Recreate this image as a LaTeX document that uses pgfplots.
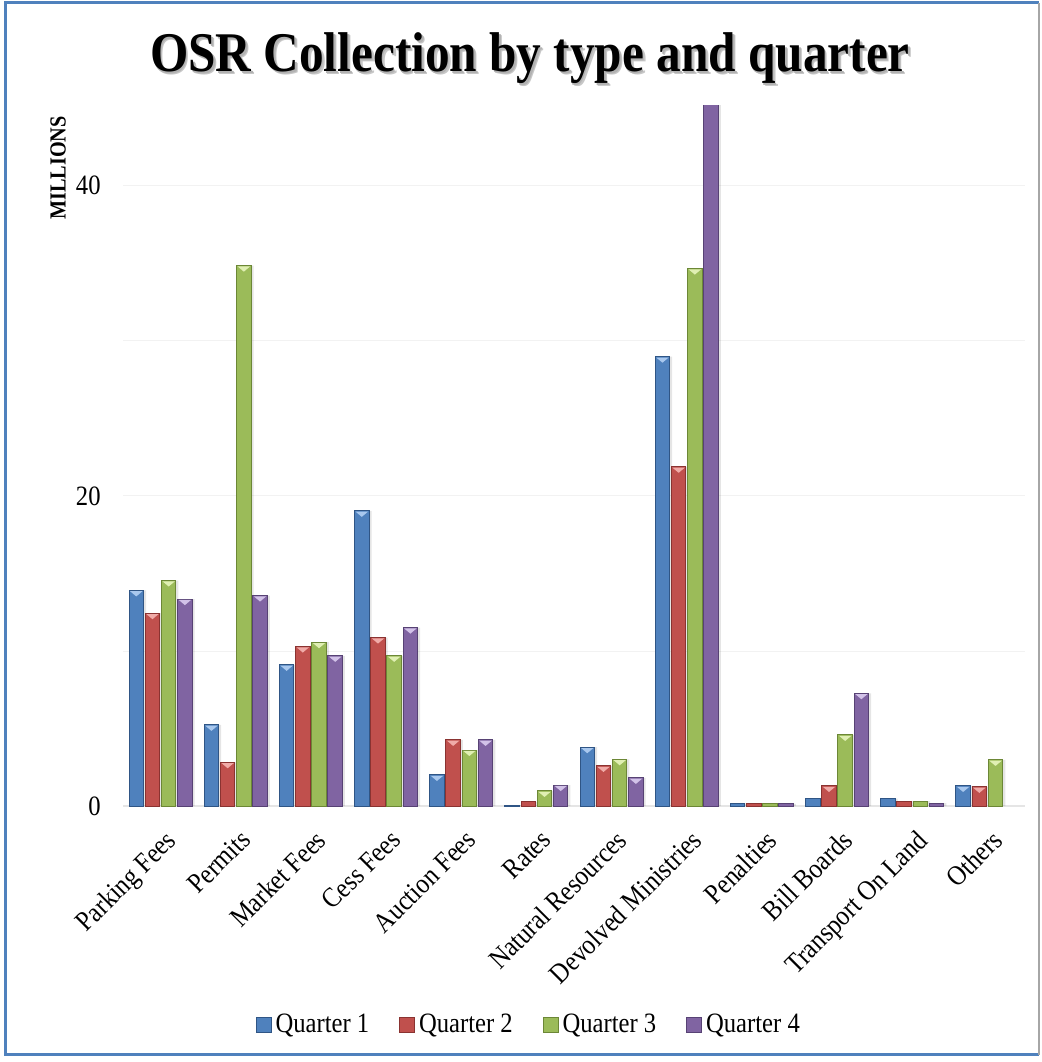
\documentclass[border=0pt]{standalone}
\usepackage{pgfplots}
\pgfplotsset{compat=1.18}
\usepackage{pgfplotstable}
\usepackage{fontspec}
\setmainfont{Liberation Serif}[FakeStretch=0.88]

% series colours: base, darker edge, light bevel
\definecolor{qa}{HTML}{4F81BD}\definecolor{qaD}{HTML}{2F5585}\definecolor{qaL}{HTML}{A9C8EE}
\definecolor{qb}{HTML}{C0504D}\definecolor{qbD}{HTML}{8A3331}\definecolor{qbL}{HTML}{F0ABA8}
\definecolor{qc}{HTML}{9BBB59}\definecolor{qcD}{HTML}{6C8736}\definecolor{qcL}{HTML}{E0EFB3}
\definecolor{qd}{HTML}{8064A2}\definecolor{qdD}{HTML}{574274}\definecolor{qdL}{HTML}{D2C2E8}
\definecolor{frame}{HTML}{4F81BD}

% OSR collection in millions, one row per revenue type
\pgfplotstableread{
idx Q1    Q2    Q3    Q4
0   13.90 12.43 14.54 13.34
1   5.23  2.82  34.84 13.57
2   9.10  10.28 10.56 9.68
3   19.03 10.86 9.68  11.50
4   2.00  4.26  3.61  4.26
5   0.05  0.26  0.97  1.35
6   3.79  2.58  3.01  1.81
7   28.97 21.87 34.65 46.50
8   0.17  0.17  0.17  0.14
9   0.47  1.29  4.58  7.27
10  0.47  0.32  0.32  0.19
11  1.29  1.23  2.97  nan
}\osr

\newcommand\tri[1]{\tikz\fill[#1] (-3.1pt,0) -- (3.1pt,0) -- (0,-2.6pt) -- cycle;}
% text with a soft drop shadow set in the same box
\newcommand\shadowed[1]{%
  \makebox[0pt][l]{\kern1.4pt\raisebox{-1.4pt}{\color{black!22}#1}}%
  \makebox[0pt][l]{\kern0.8pt\raisebox{-0.8pt}{\color{black!30}#1}}#1}

\pgfplotsset{
  qbar/.style 2 args={fill=#1, draw=#2, line width=0.5pt},
  shadowbar/.style={draw=none, fill=black, fill opacity=0.10, forget plot},
  bevel/.style={draw=none, fill=none, forget plot, restrict y to domain=0.6:45,
    nodes near coords={\tri{#1}},
    every node near coord/.append style={anchor=north, inner sep=0pt, outer sep=0pt, yshift=-0.4pt}},
}

\begin{document}
\begin{tikzpicture}
\useasboundingbox (0,0) rectangle (520.5pt,531pt);
% outer frame
\draw[frame, line width=1.5pt] (519.5pt,529.5pt) -- (2.5pt,529.5pt) -- (2.5pt,3.5pt) -- (519.5pt,3.5pt);
\draw[black!35, line width=0.6pt] (519.5pt,3.5pt) -- (519.5pt,529.5pt);

% title
\node[anchor=base, font=\bfseries\fontsize{28}{32}\selectfont] at (265pt,495pt)
  {\shadowed{OSR Collection by type and quarter}};

\begin{axis}[
  at={(61.5pt,128pt)}, anchor=south west,
  scale only axis, width=451pt, height=350.5pt,
  xmin=-0.5, xmax=11.5, ymin=0, ymax=45.2,
  ybar, bar width=7.25pt,
  axis lines*=left,
  x axis line style={black!10, line width=1.4pt},
  y axis line style={draw=none},
  xtick={0,...,11},
  xticklabels={Parking Fees, Permits, Market Fees, Cess Fees, Auction Fees, Rates,
    Natural Resources, Devolved Ministries, Penalties, Bill Boards, Transport On Land, Others},
  major tick length=0pt, minor tick length=0pt,
  xticklabel style={font=\fontsize{14}{16}\selectfont, xshift=1.5pt, yshift=-11pt,
    rotate=45, anchor=north east, inner sep=0pt},
  ytick={0,20,40}, minor ytick={10,30},
  ymajorgrids, yminorgrids,
  major grid style={black!5}, minor grid style={black!5},
  yticklabel style={font=\fontsize{14}{16}\selectfont, anchor=east, inner sep=0pt, xshift=-11pt},
  /pgf/number format/assume math mode=true,
  legend columns=4,
  legend cell align=left,
  legend style={draw=none, fill=none, at={(0.451,-0.3124)}, anchor=center,
    font=\fontsize{14}{16}\selectfont,
    /tikz/every even column/.append style={column sep=13pt}},
  legend image code/.code={\draw[#1] (0pt,-3.7pt) rectangle (7.4pt,3.7pt);},
]
% soft shadows behind the bars
\addplot[shadowbar, bar shift=-10.9pt] table[x=idx, y=Q1] {\osr};
\addplot[shadowbar, bar shift=-2.8pt]  table[x=idx, y=Q2] {\osr};
\addplot[shadowbar, bar shift=5.3pt]   table[x=idx, y=Q3] {\osr};
\addplot[shadowbar, bar shift=13.4pt]  table[x=idx, y=Q4] {\osr};

\addplot[qbar={qa}{qaD}, bar shift=-12.15pt] table[x=idx, y=Q1] {\osr};
\addplot[qbar={qb}{qbD}, bar shift=-4.05pt]  table[x=idx, y=Q2] {\osr};
\addplot[qbar={qc}{qcD}, bar shift=4.05pt]   table[x=idx, y=Q3] {\osr};
\addplot[qbar={qd}{qdD}, bar shift=12.15pt]  table[x=idx, y=Q4] {\osr};
\legend{Quarter 1, Quarter 2, Quarter 3, Quarter 4}

% bevelled caps on the bars
\addplot[bevel=qaL, bar shift=-12.15pt] table[x=idx, y=Q1] {\osr};
\addplot[bevel=qbL, bar shift=-4.05pt]  table[x=idx, y=Q2] {\osr};
\addplot[bevel=qcL, bar shift=4.05pt]   table[x=idx, y=Q3] {\osr};
\addplot[bevel=qdL, bar shift=12.15pt]  table[x=idx, y=Q4] {\osr};
\end{axis}

% axis title
\node[rotate=90, font=\bfseries\fontsize{11.5}{13}\selectfont] at (29pt,447pt) {MILLIONS};
\end{tikzpicture}
\end{document}
